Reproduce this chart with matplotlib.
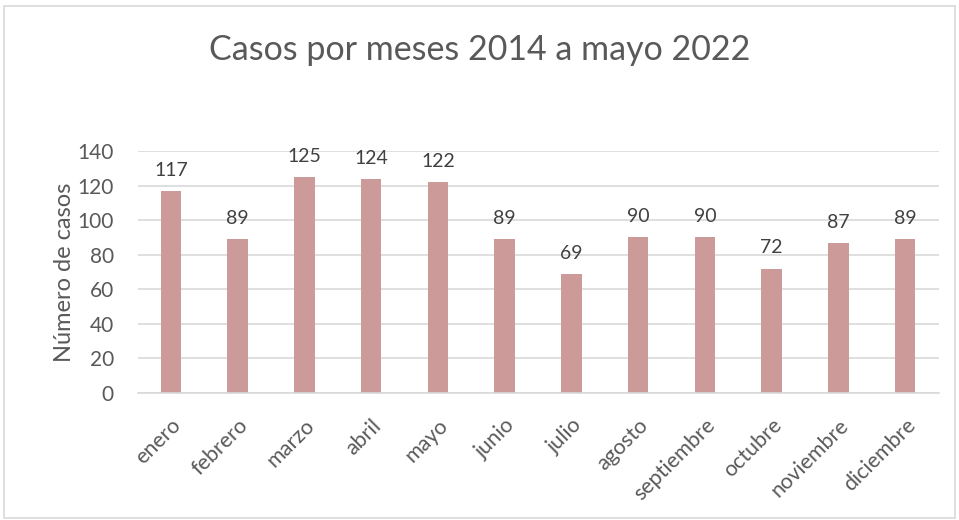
import matplotlib.pyplot as plt
from matplotlib.patches import Rectangle

meses = ["enero", "febrero", "marzo", "abril", "mayo", "junio", "julio",
         "agosto", "septiembre", "octubre", "noviembre", "diciembre"]
casos = [117, 89, 125, 124, 122, 89, 69, 90, 90, 72, 87, 89]

plt.rcParams['font.family'] = ['Lato', 'DejaVu Sans']
gris = "#595959"

fig = plt.figure(figsize=(9.59, 5.2), dpi=100)
ax = fig.add_axes([137.5 / 959, 1 - 393 / 520, 801 / 959, 242 / 520])

# marco del gráfico
fig.patches.append(Rectangle((4 / 959, 2 / 520), 951 / 959, 512 / 520, transform=fig.transFigure,
                             fill=False, edgecolor="#D9D9D9", lw=1.2))

x = range(len(meses))
ax.bar(x, casos, width=0.31, color="#CD9A9A", zorder=2)
for xi, v in zip(x, casos):
    ax.text(xi, v + 7, str(v), ha="center", va="bottom", fontsize=14, color="#404040")

ax.set_ylim(0, 140)
ax.set_xlim(-0.5, len(meses) - 0.5)
ax.set_yticks(range(0, 141, 20))
ax.yaxis.grid(True, color="#D9D9D9", lw=1.2, zorder=0)
ax.tick_params(axis="both", length=0, labelcolor=gris)
ax.tick_params(axis="y", pad=17, labelsize=15)
ax.tick_params(axis="x", pad=16, labelsize=15.5)
ax.set_xticks(list(x))
ax.set_xticklabels(meses, rotation=45, ha="right", va="top", rotation_mode="anchor")
for lbl in ax.get_xticklabels():
    lbl.set_x(lbl.get_position()[0])
for s in ["top", "right", "left"]:
    ax.spines[s].set_visible(False)
ax.spines["bottom"].set_color("#D9D9D9")
ax.spines["bottom"].set_linewidth(1.2)

ax.set_ylabel("Número de casos", fontsize=17, color=gris, labelpad=2)
fig.text(0.5, 1 - 50 / 520, "Casos por meses 2014 a mayo 2022", ha="center", va="center",
         fontsize=24.5, color=gris)

fig.savefig("out.png", dpi=100)
